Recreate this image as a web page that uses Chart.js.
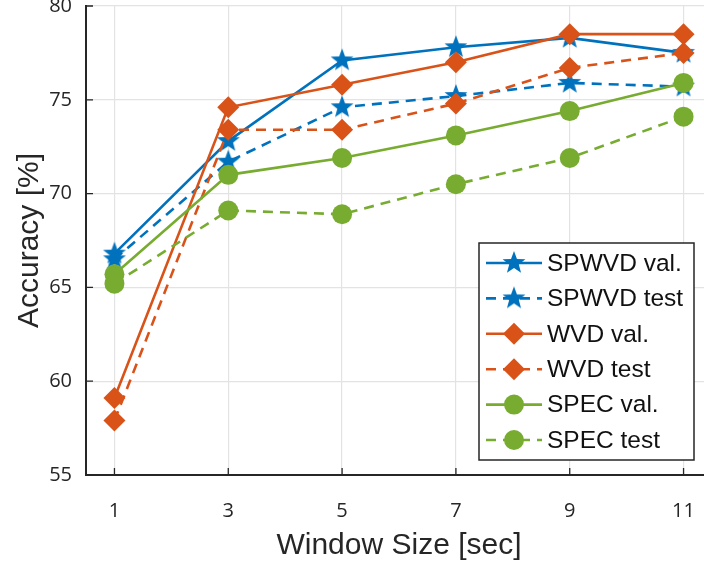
<!DOCTYPE html>
<html>
<head>
<meta charset="utf-8">
<script src="https://cdn.jsdelivr.net/npm/chart.js@4"></script>
<style>
  html, body { margin: 0; padding: 0; background: #fff; overflow: hidden; }
  #accChart { display: block; }
</style>
</head>
<body>
<canvas id="accChart" width="712" height="570"></canvas>
<script>
// window sizes (sec)
const windowSizes = [1, 3, 5, 7, 9, 11];
const xTicks = [1, 3, 5, 7, 9, 11];
const yTicks = [55, 60, 65, 70, 75, 80];

// accuracy [%]
const spwvdVal  = [66.8, 72.8, 77.1, 77.8, 78.3, 77.5];
const spwvdTest = [66.5, 71.7, 74.6, 75.2, 75.9, 75.7];
const wvdVal    = [59.1, 74.6, 75.8, 77.0, 78.5, 78.5];
const wvdTest   = [57.9, 73.4, 73.4, 74.8, 76.7, 77.5];
const specVal   = [65.7, 71.0, 71.9, 73.1, 74.4, 75.9];
const specTest  = [65.2, 69.1, 68.9, 70.5, 71.9, 74.1];

const labels = ['SPWVD val.', 'SPWVD test', 'WVD val.', 'WVD test', 'SPEC val.', 'SPEC test'];

const blue = '#0072BD', orange = '#D95319', green = '#77AC30';

function makeStar(color, r) {
    let c = document.createElement('canvas');
    let s = Math.ceil(r * 2 + 2);
    c.width = s; c.height = s;
    let ctx = c.getContext('2d');
    ctx.fillStyle = color;
    ctx.beginPath();
    for (let i = 0; i < 10; i++) {
        let rad = i % 2 === 0 ? r : r * 0.42;
        let a = -Math.PI / 2 + i * Math.PI / 5;
        let px = s / 2 + rad * Math.cos(a), py = s / 2 + rad * Math.sin(a);
        if (i === 0) ctx.moveTo(px, py); else ctx.lineTo(px, py);
    }
    ctx.closePath();
    ctx.fill();
    return c;
}
const blueStar = makeStar(blue, 12);

function series(i, values, color, dashed, style, radius) {
    return {
        label: labels[i],
        data: windowSizes.map((x, k) => ({ x: x, y: values[k] })),
        borderColor: color,
        backgroundColor: color,
        borderWidth: 2.6,
        borderDash: dashed ? [10, 7] : [],
        pointStyle: style,
        pointRadius: radius,
        pointHoverRadius: radius,
        pointBorderWidth: 0,
        pointBackgroundColor: color,
        tension: 0,
        order: 6 - i
    };
}

// legend drawn inside the plot, MATLAB style
const boxLegend = {
    id: 'boxLegend',
    afterDatasetsDraw(chart) {
        const ctx = chart.ctx;
        const x0 = 479, y0 = 243, w = 215, h = 217;
        ctx.save();
        ctx.fillStyle = '#fff';
        ctx.fillRect(x0, y0, w, h);
        ctx.strokeStyle = '#262626';
        ctx.lineWidth = 1.5;
        ctx.strokeRect(x0, y0, w, h);
        ctx.font = '24.5px "Liberation Sans", Arial, sans-serif';
        ctx.textBaseline = 'middle';
        chart.data.datasets.forEach((ds, i) => {
            const y = 263 + i * 35.4;
            ctx.strokeStyle = ds.borderColor;
            ctx.lineWidth = ds.borderWidth;
            ctx.setLineDash(ds.borderDash);
            ctx.beginPath();
            ctx.moveTo(486, y);
            ctx.lineTo(542, y);
            ctx.stroke();
            ctx.setLineDash([]);
            ctx.fillStyle = ds.borderColor;
            const cx = 514;
            if (ds.pointStyle === 'rectRot') {
                ctx.beginPath();
                ctx.moveTo(cx, y - 11); ctx.lineTo(cx + 11, y);
                ctx.lineTo(cx, y + 11); ctx.lineTo(cx - 11, y);
                ctx.closePath(); ctx.fill();
            } else if (ds.pointStyle === 'circle') {
                ctx.beginPath();
                ctx.arc(cx, y, ds.pointRadius, 0, Math.PI * 2);
                ctx.fill();
            } else {
                ctx.drawImage(ds.pointStyle, cx - ds.pointStyle.width / 2, y - ds.pointStyle.height / 2);
            }
            ctx.fillStyle = '#111';
            ctx.fillText(ds.label, 547, y + 1);
        });
        ctx.restore();
    }
};

// short inward tick marks
const innerTicks = {
    id: 'innerTicks',
    afterDraw(chart) {
        const ctx = chart.ctx, a = chart.chartArea;
        const xs = chart.scales.x, ys = chart.scales.y;
        ctx.save();
        ctx.strokeStyle = '#262626';
        ctx.lineWidth = 1.3;
        ctx.beginPath();
        xTicks.forEach(v => {
            const px = xs.getPixelForValue(v);
            ctx.moveTo(px, a.bottom); ctx.lineTo(px, a.bottom - 7);
        });
        yTicks.forEach(v => {
            const py = ys.getPixelForValue(v);
            ctx.moveTo(a.left, py); ctx.lineTo(a.left + 7, py);
        });
        ctx.stroke();
        ctx.restore();
    }
};

new Chart(document.getElementById('accChart'), {
    type: 'line',
    data: {
        datasets: [
            series(0, spwvdVal, blue, false, blueStar, 12),
            series(1, spwvdTest, blue, true, blueStar, 12),
            series(2, wvdVal, orange, false, 'rectRot', 11),
            series(3, wvdTest, orange, true, 'rectRot', 11),
            series(4, specVal, green, false, 'circle', 10),
            series(5, specTest, green, true, 'circle', 10)
        ]
    },
    options: {
        responsive: false,
        animation: false,
        layout: { padding: { top: 6, left: 0, right: 0, bottom: 0 }, autoPadding: false },
        plugins: { legend: { display: false }, tooltip: { enabled: false } },
        scales: {
            x: {
                type: 'linear',
                min: 0.5,
                max: 11.5,
                afterBuildTicks: scale => { scale.ticks = xTicks.map(v => ({ value: v })); },
                afterFit: scale => { scale.height = 95; scale.paddingLeft = 0; scale.paddingRight = 0; },
                grid: { color: '#e3e3e3', lineWidth: 1.2, drawTicks: false },
                border: { color: '#262626', width: 2 },
                ticks: {
                    padding: 24,
                    color: '#262626',
                    font: { family: '"Open Sans", sans-serif', size: 20 },
                    maxRotation: 0
                },
                title: {
                    display: true,
                    text: 'Window Size [sec]',
                    color: '#262626',
                    font: { family: '"Liberation Sans", Arial, sans-serif', size: 30 },
                    padding: { bottom: 6 }
                }
            },
            y: {
                min: 55,
                max: 80,
                afterBuildTicks: scale => { scale.ticks = yTicks.map(v => ({ value: v })); },
                afterFit: scale => { scale.width = 86; scale.paddingTop = 0; scale.paddingBottom = 0; },
                grid: { color: '#e3e3e3', lineWidth: 1.2, drawTicks: false },
                border: { color: '#262626', width: 2 },
                ticks: {
                    padding: 14,
                    color: '#262626',
                    font: { family: '"Open Sans", sans-serif', size: 20 }
                },
                title: {
                    display: true,
                    text: 'Accuracy [%]',
                    color: '#262626',
                    font: { family: '"Liberation Sans", Arial, sans-serif', size: 30 },
                    padding: { top: 12 }
                }
            }
        }
    },
    plugins: [boxLegend, innerTicks]
});
</script>
</body>
</html>
